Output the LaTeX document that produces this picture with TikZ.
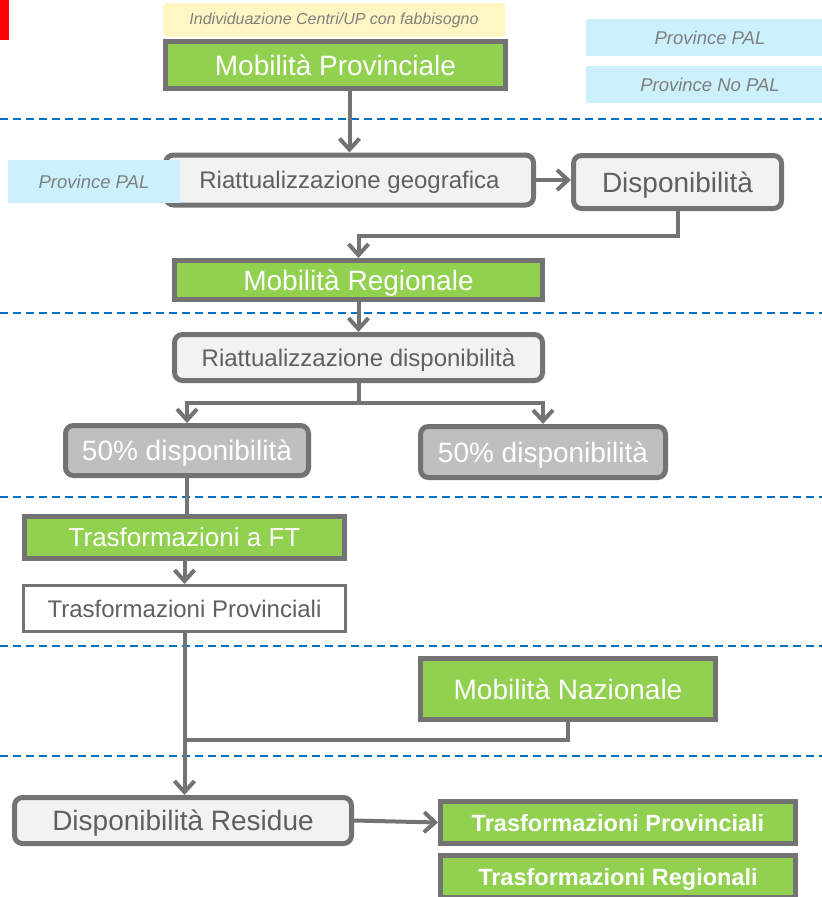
\documentclass[tikz,border=0pt]{standalone}
\usepackage{fontspec}
\setmainfont{Liberation Sans}
\usetikzlibrary{arrows.meta}
\definecolor{leaf}{HTML}{92D050}
\definecolor{frame}{HTML}{737373}
\definecolor{paper}{HTML}{F2F2F2}
\definecolor{ash}{HTML}{BFBFBF}
\definecolor{sky}{HTML}{CCF0FC}
\definecolor{cream}{HTML}{FFF6C4}
\definecolor{sea}{HTML}{0070C0}
\definecolor{ink}{HTML}{5F5F5F}
\definecolor{mute}{HTML}{7F7F7F}
\tikzset{
  >={Straight Barb[length=11pt,width=20pt]},
  {big font/.style} ={font=\fontsize{28}{30}\selectfont},
  {mid font/.style} ={font=\fontsize{24}{26}\selectfont},
  {bold font/.style} ={font=\fontsize{23.5}{26}\selectfont\bfseries},
  {base box/.style} ={draw=frame, inner sep=0, align=center, text depth=0pt},
  {green box/.style} ={base box, line width=5pt, fill=leaf, text=white, big font},
  {light box/.style} ={base box, line width=5pt, rounded corners=8pt,
                      fill=paper, text=ink, mid font},
  {grey box/.style} ={base box, line width=5pt, rounded corners=8pt,
                     fill=ash, text=white, big font},
  {tag box/.style} ={fill=sky, text=mute, inner sep=0, text depth=0pt,
                    font=\fontsize{18.5}{20}\selectfont\itshape},
  {link/.style} ={draw=frame, line width=4pt},
  {flow/.style} ={link, ->},
  {split line/.style} ={draw=sea, line width=2pt, dash pattern=on 8pt off 5pt},
}

\begin{document}
\begin{tikzpicture}[x=1pt,y=-1pt]
\useasboundingbox (0,0) rectangle (822,897);
\fill[red] (0,0) rectangle (9,40);
% separators
\foreach \y in {119,313,497,646,756}
  \draw[split line] (0,\y) -- (822,\y);
% top
\node[fill=cream, rounded corners=4pt, text=mute, minimum width=342pt,
      minimum height=34pt, font=\fontsize{16}{18}\selectfont\itshape]
      (need) at (334,20) {Individuazione Centri/UP con fabbisogno};
\node[green box, minimum width=340pt, minimum height=47pt] (mobprov) at (335.5,65) {Mobilità Provinciale};
\node[tag box, minimum width=248pt, minimum height=37pt] (palA) at (710,37.5) {Province PAL};
\node[tag box, minimum width=248pt, minimum height=37pt] (nopal) at (710,84.5) {Province No PAL};
% geografica
\node[light box, minimum width=368pt, minimum height=50pt] (riatgeo) at (349.5,180) {Riattualizzazione geografica};
\node[tag box, minimum width=172pt, minimum height=43pt] (palB) at (94,181.5) {Province PAL};
\node[light box, big font, minimum width=208pt, minimum height=53pt] (disp) at (677.5,182) {Disponibilità};
\node[green box, minimum width=368pt, minimum height=39pt] (mobreg) at (358.5,280) {Mobilità Regionale};
% regionale
\node[light box, minimum width=368pt, minimum height=46pt] (riatdisp) at (358.5,357.5) {Riattualizzazione disponibilità};
\node[grey box, minimum width=243pt, minimum height=50pt] (halfA) at (187,450.5) {50\% disponibilità};
\node[grey box, minimum width=245pt, minimum height=51pt] (halfB) at (543,452) {50\% disponibilità};
% trasformazioni
\node[green box, font=\fontsize{26}{28}\selectfont, minimum width=320pt, minimum height=42pt] (trasft) at (184.5,537.5) {Trasformazioni a FT};
\node[base box, line width=3pt, fill=white, text=ink, mid font, minimum width=322pt,
      minimum height=46pt] (trasprov) at (184.5,608.5) {Trasformazioni Provinciali};
\node[green box, minimum width=295pt, minimum height=61pt] (mobnaz) at (568,689) {Mobilità Nazionale};
% residue
\node[light box, big font, minimum width=337pt, minimum height=46pt] (dispres) at (183,820.5) {Disponibilità Residue};
\node[green box, bold font, minimum width=355pt, minimum height=42pt] (outprov) at (618,822.5) {Trasformazioni Provinciali};
\node[green box, bold font, minimum width=355pt, minimum height=42pt] (outreg) at (618,876.5) {Trasformazioni Regionali};
% connectors
\draw[flow] (mobprov.south -| riatgeo.north) -- (riatgeo.north);
\draw[flow] (riatgeo.east) -- (disp.west |- riatgeo.east);
\draw[flow] (disp.south) -- ++(0,25) -| (mobreg.north);
\draw[flow] (mobreg.south) -- (riatdisp.north);
\draw[flow] (riatdisp.south) -- ++(0,20) -| (halfA.north);
\draw[flow] (riatdisp.south) -- ++(0,20) -| (halfB.north);
\draw[link] (halfA.south) -- (halfA.south |- trasft.north);
\draw[flow] (trasft.south) -- (trasprov.north);
\draw[flow] (trasprov.south) -- (trasprov.south |- dispres.north);
\coordinate (merge) at (trasprov.south |- 0,740);
\draw[link] (mobnaz.south) |- (merge);
\draw[flow] (dispres.east) -- (outprov.west);
\end{tikzpicture}
\end{document}
